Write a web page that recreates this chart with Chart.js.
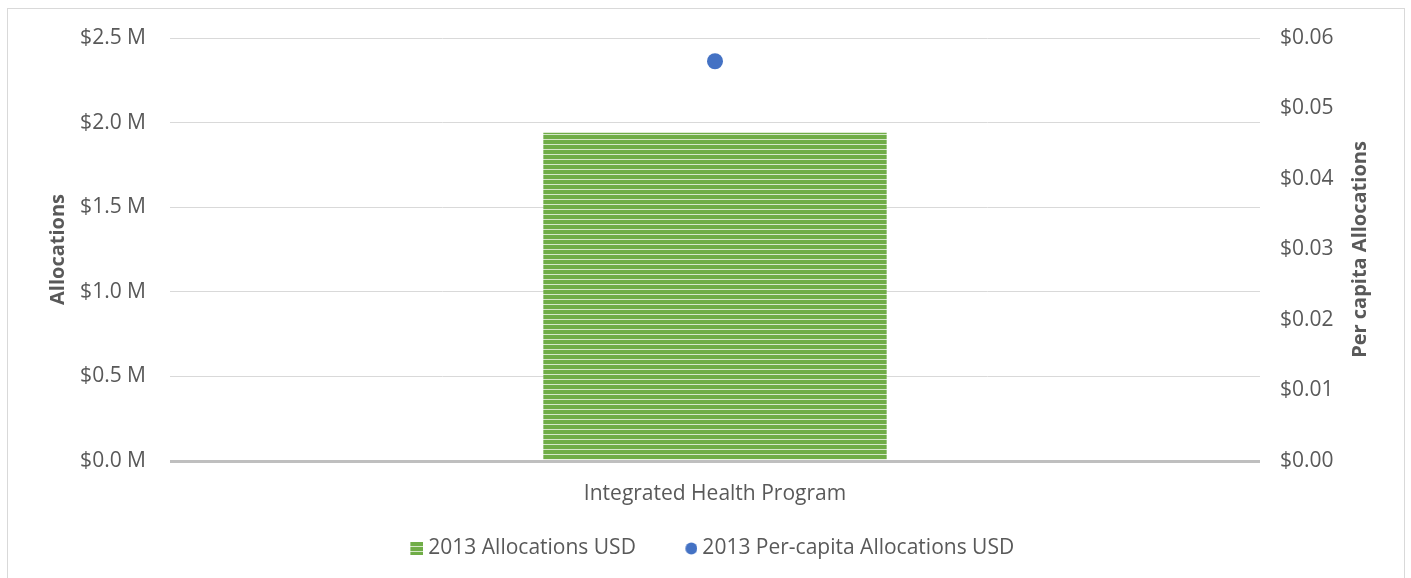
<!DOCTYPE html>
<html>
<head>
<meta charset="utf-8">
<script src="https://cdn.jsdelivr.net/npm/chart.js@4"></script>
<style>
html, body { margin: 0; padding: 0; background: #fff; }
#wrap { position: relative; width: 1411px; height: 578px; overflow: hidden; }
#frame { position: absolute; left: 7px; top: 8px; width: 1398px; height: 620px; border: 1px solid #d9d9d9; box-sizing: border-box; }
canvas { position: absolute; left: 0; top: 0; }
</style>
</head>
<body>
<div id="wrap">
  <div id="frame"></div>
  <canvas id="chart" width="1411" height="578"></canvas>
</div>
<script>
const categories = ['Integrated Health Program'];
const allocations = [1940000];
const perCapita = [0.0567];
const seriesNames = ['2013 Allocations USD', '2013 Per-capita Allocations USD'];
const leftTitle = 'Allocations';
const rightTitle = 'Per capita Allocations';

const fontFamily = '"Open Sans", "Noto Sans", sans-serif';
const textColor = '#595959';
const barGreen = '#70ad47';
const pointBlue = '#4472c4';

// striped green fill like the office chart
function makeStripes(w, h) {
    const c = document.createElement('canvas');
    c.width = w;
    c.height = h;
    const g = c.getContext('2d');
    g.fillStyle = barGreen;
    g.fillRect(0, 0, w, h);
    for (let y = 4; y < h; y += 5) {
        g.fillStyle = '#d5e8c8';
        g.fillRect(0, y, w, 1);
    }
    return c;
}

// legend markers: glyph sits at the right end so the empty left part spaces the items
function makeMarker(kind) {
    const c = document.createElement('canvas');
    c.width = 40;
    c.height = 13;
    const g = c.getContext('2d');
    if (kind === 'bar') {
        g.drawImage(makeStripes(13, 13), 27, 0);
    } else {
        g.fillStyle = pointBlue;
        g.beginPath();
        g.arc(34, 6.5, 6, 0, Math.PI * 2);
        g.fill();
    }
    return c;
}

const ctx = document.getElementById('chart').getContext('2d');
const stripePattern = ctx.createPattern(makeStripes(10, 5), 'repeat');
const barMarker = makeMarker('bar');
const pointMarker = makeMarker('point');

const axisTitles = {
    id: 'axisTitles',
    afterDraw(chart) {
        const { ctx, chartArea } = chart;
        const cy = (chartArea.top + chartArea.bottom) / 2;
        ctx.save();
        ctx.font = 'bold 20px ' + fontFamily;
        ctx.fillStyle = textColor;
        ctx.textAlign = 'center';
        ctx.textBaseline = 'middle';
        [[58, leftTitle], [1360, rightTitle]].forEach(([x, text]) => {
            ctx.save();
            ctx.translate(x, cy);
            ctx.rotate(-Math.PI / 2);
            ctx.fillText(text, 0, 0);
            ctx.restore();
        });
        ctx.restore();
    }
};

new Chart(ctx, {
    type: 'bar',
    data: {
        labels: categories,
        datasets: [{
            label: seriesNames[0],
            data: allocations,
            backgroundColor: stripePattern,
            borderWidth: 0,
            barPercentage: 0.315,
            categoryPercentage: 1,
            yAxisID: 'y',
            order: 2
        }, {
            type: 'line',
            label: seriesNames[1],
            data: perCapita,
            showLine: false,
            pointRadius: 8,
            pointBackgroundColor: pointBlue,
            pointBorderWidth: 0,
            backgroundColor: pointBlue,
            borderColor: pointBlue,
            yAxisID: 'y1',
            order: 1
        }]
    },
    options: {
        responsive: false,
        animation: false,
        layout: { padding: { top: 38, bottom: 9, left: 0, right: 8 } },
        plugins: {
            tooltip: { enabled: false },
            legend: {
                position: 'bottom',
                labels: {
                    usePointStyle: true,
                    pointStyleWidth: 29,
                    boxHeight: 8,
                    padding: 27,
                    color: textColor,
                    font: { family: fontFamily, size: 21 },
                    generateLabels(chart) {
                        const items = Chart.defaults.plugins.legend.labels.generateLabels(chart);
                        items.sort((a, b) => a.datasetIndex - b.datasetIndex);
                        items.forEach(it => {
                            it.lineWidth = 0;
                            it.pointStyle = it.datasetIndex === 0 ? barMarker : pointMarker;
                        });
                        return items;
                    }
                }
            }
        },
        scales: {
            x: {
                grid: { display: false, drawTicks: false },
                border: { display: false },
                ticks: {
                    padding: 20,
                    color: textColor,
                    font: { family: fontFamily, size: 21 }
                },
                afterFit(scale) { scale.height = 50; }
            },
            y: {
                position: 'left',
                min: 0,
                max: 2500000,
                ticks: {
                    stepSize: 500000,
                    padding: 24,
                    color: textColor,
                    font: { family: fontFamily, size: 21 },
                    callback: v => '$' + (v / 1e6).toFixed(1) + ' M'
                },
                grid: {
                    drawTicks: false,
                    color: c => c.tick && c.tick.value === 0 ? '#bfbfbf' : '#d9d9d9',
                    lineWidth: c => c.tick && c.tick.value === 0 ? 3 : 1
                },
                border: { display: false },
                afterFit(scale) { scale.width = 170; }
            },
            y1: {
                position: 'right',
                min: 0,
                max: 0.06,
                ticks: {
                    stepSize: 0.01,
                    padding: 20,
                    color: textColor,
                    font: { family: fontFamily, size: 21 },
                    callback: v => '$' + v.toFixed(2)
                },
                grid: { drawOnChartArea: false, drawTicks: false },
                border: { display: false },
                afterFit(scale) { scale.width = 143; }
            }
        }
    },
    plugins: [axisTitles]
});
</script>
</body>
</html>
